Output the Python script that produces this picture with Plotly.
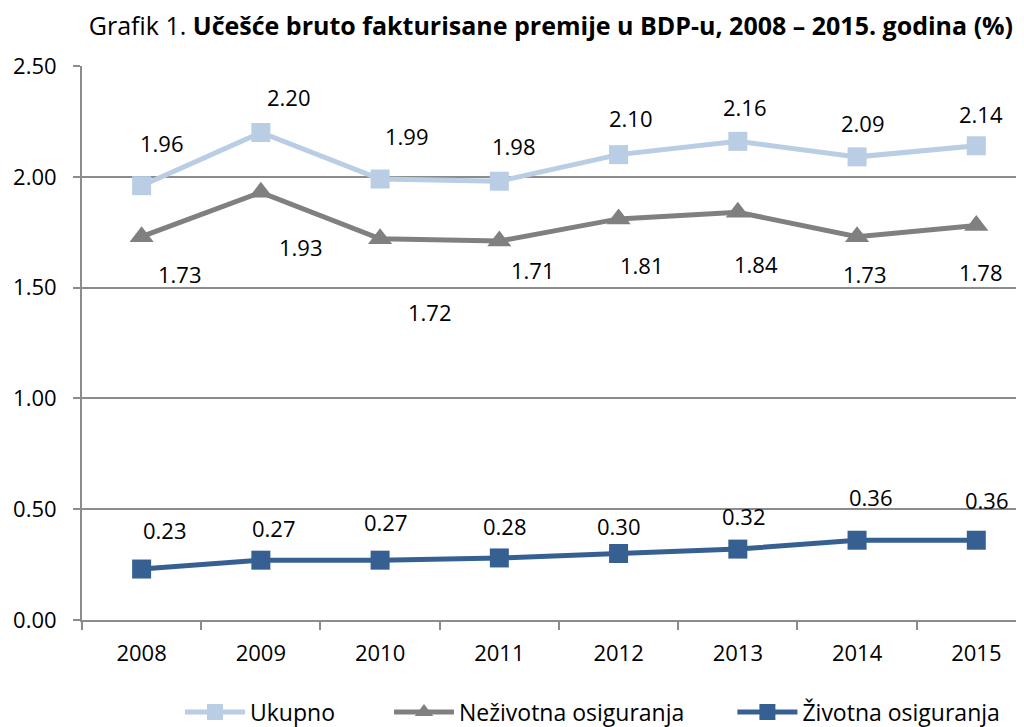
import plotly.graph_objects as go

years = ["2008", "2009", "2010", "2011", "2012", "2013", "2014", "2015"]
ukupno = [1.96, 2.20, 1.99, 1.98, 2.10, 2.16, 2.09, 2.14]
nezivotna = [1.73, 1.93, 1.72, 1.71, 1.81, 1.84, 1.73, 1.78]
zivotna = [0.23, 0.27, 0.27, 0.28, 0.30, 0.32, 0.36, 0.36]
y_ticks = [0.0, 0.5, 1.0, 1.5, 2.0, 2.5]

# label offsets in pixels (dx right, dy down)
uk_off = [(20, -43), (28, -35), (27, -43), (15, -35), (12, -37), (7, -34), (6, -34), (5, -32)]
ne_off = [(38, 37), (40, 55), (50, 73), (34, 29), (23, 46), (18, 52), (8, 37), (5, 46)]
zi_off = [(23, -39), (13, -32), (6, -38), (6, -32), (0, -28), (6, -33), (14, -43), (11, -40)]

FONT = "Open Sans"
FS = 22
C_UK = "#B9CDE5"
C_NE = "#808080"
C_ZI = "#376092"
GRID = "#8C8C8C"
W, H = 1016, 719

fig = go.Figure()
fig.add_trace(go.Scatter(x=years, y=ukupno, name="Ukupno", mode="lines+markers",
                         line=dict(color=C_UK, width=5), legend="legend",
                         marker=dict(symbol="square", size=19, color=C_UK)))
fig.add_trace(go.Scatter(x=years, y=nezivotna, name="Neživotna osiguranja", mode="lines+markers",
                         line=dict(color=C_NE, width=5), legend="legend2",
                         marker=dict(symbol="triangle-up", size=21, color=C_NE)))
fig.add_trace(go.Scatter(x=years, y=zivotna, name="Životna osiguranja", mode="lines+markers",
                         line=dict(color=C_ZI, width=5), legend="legend3",
                         marker=dict(symbol="square", size=19, color=C_ZI)))

annotations = []
for vals, offs in ((ukupno, uk_off), (nezivotna, ne_off), (zivotna, zi_off)):
    for i, (v, (dx, dy)) in enumerate(zip(vals, offs)):
        annotations.append(dict(x=i, y=v, xref="x", yref="y", text=f"{v:.2f}",
                                showarrow=False, xshift=dx, yshift=-dy,
                                font=dict(family=FONT, size=FS, color="#000000")))

def leg(x):
    return dict(orientation="h", xref="container", yref="container",
                x=x, y=0.0209, xanchor="left", yanchor="middle",
                font=dict(family=FONT, size=23, color="#000000"),
                itemwidth=60, bgcolor="rgba(0,0,0,0)")

fig.update_layout(
    width=W, height=H,
    margin=dict(l=74, r=0, t=58, b=107),
    paper_bgcolor="white", plot_bgcolor="white",
    font=dict(family=FONT, size=FS, color="#000000"),
    title=dict(text="Grafik 1. <b>Učešće bruto fakturisane premije u BDP-u, 2008 – 2015. godina (%)</b>",
               xref="container", yref="container", x=0.5344, y=0.975,
               xanchor="center", yanchor="middle",
               font=dict(family=FONT, size=25, color="#000000")),
    showlegend=True,
    legend=leg(0.1693),
    legend2=leg(0.3750),
    legend3=leg(0.7130),
    annotations=annotations,
)
fig.update_xaxes(type="category", range=[-0.5, 7.4], tickson="boundaries",
                 ticks="outside", ticklen=8, tickwidth=2, tickcolor=GRID,
                 showline=True, linecolor=GRID, linewidth=2,
                 showgrid=False, zeroline=False, ticklabelstandoff=13,
                 tickfont=dict(family=FONT, size=FS, color="#000000"))
fig.update_yaxes(range=[0, 2.5], tickvals=y_ticks, tickformat=".2f",
                 ticks="outside", ticklen=7, tickwidth=2, tickcolor=GRID,
                 showline=True, linecolor=GRID, linewidth=2,
                 showgrid=True, gridcolor=GRID, gridwidth=2, zeroline=False,
                 ticklabelstandoff=12,
                 tickfont=dict(family=FONT, size=FS, color="#000000"))

fig.write_html("out.html")
